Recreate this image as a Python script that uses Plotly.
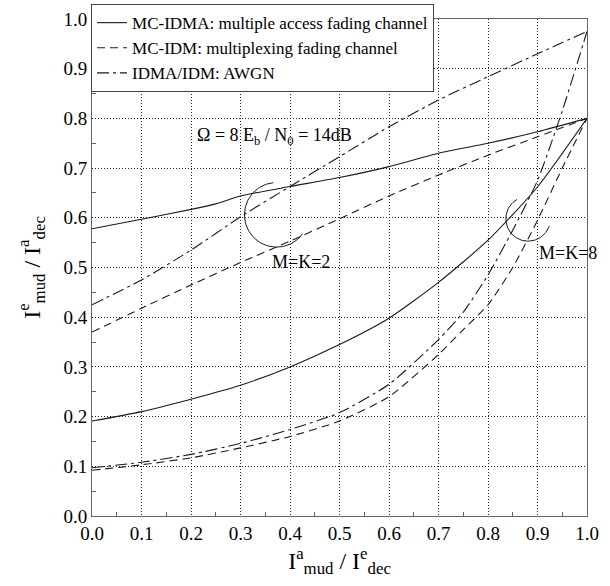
import numpy as np
import plotly.graph_objects as go

# ---------------- data ----------------
x_k2 = [0.0, 0.1, 0.2, 0.25, 0.3, 0.4, 0.5, 0.6, 0.7, 0.8, 0.9, 1.0]
mcidma_k2 = [0.578, 0.597, 0.617, 0.628, 0.644, 0.663, 0.681, 0.703, 0.730, 0.750, 0.773, 0.800]

x_std = [0.0, 0.1, 0.2, 0.3, 0.4, 0.5, 0.6, 0.7, 0.8, 0.9, 1.0]
mcidm_k2 = [0.370, 0.418, 0.465, 0.510, 0.553, 0.598, 0.644, 0.686, 0.726, 0.763, 0.800]
awgn_k2 = [0.425, 0.475, 0.535, 0.602, 0.663, 0.723, 0.783, 0.837, 0.884, 0.930, 0.975]
mcidma_k8 = [0.191, 0.210, 0.235, 0.263, 0.300, 0.345, 0.398, 0.470, 0.555, 0.662, 0.800]

x_k8 = [0.0, 0.1, 0.2, 0.3, 0.4, 0.5, 0.6, 0.7, 0.75, 0.8, 0.85, 0.9, 0.95, 1.0]
mcidm_k8 = [0.092, 0.103, 0.117, 0.137, 0.160, 0.191, 0.240, 0.325, 0.375, 0.425, 0.500, 0.595, 0.700, 0.800]
awgn_k8 = [0.097, 0.108, 0.124, 0.146, 0.174, 0.208, 0.265, 0.355, 0.410, 0.485, 0.575, 0.675, 0.815, 0.975]

legend_names = ["MC-IDMA: multiple access fading channel",
                "MC-IDM: multiplexing fading channel",
                "IDMA/IDM: AWGN"]
tick_vals = [round(0.1 * i, 1) for i in range(11)]
tick_text = ["%.1f" % v for v in tick_vals]

# annotation arcs: (center x, center y, radius, start deg, end deg)
arc_k2 = (0.373, 0.606, 0.065, 96, 324)
arc_k8 = (0.881, 0.598, 0.045, 120, 342)

# ---------------- figure ----------------
FONT = "Liberation Serif"
LC = "#1a1a1a"
DASH = "8px,5px"
DASHDOT = "12px,4px,3px,4px"

fig = go.Figure()

def add(x, y, dash, name, show):
    fig.add_trace(go.Scatter(
        x=x, y=y, mode="lines", name=name, showlegend=show,
        line=dict(color=LC, width=1.1, dash=dash, shape="spline", smoothing=0.6),
        hoverinfo="skip"))

add(x_k2, mcidma_k2, "solid", legend_names[0], True)
add(x_std, mcidm_k2, DASH, legend_names[1], True)
add(x_std, awgn_k2, DASHDOT, legend_names[2], True)
add(x_std, mcidma_k8, "solid", legend_names[0], False)
add(x_k8, mcidm_k8, DASH, legend_names[1], False)
add(x_k8, awgn_k8, DASHDOT, legend_names[2], False)

for cx, cy, r, a0, a1 in (arc_k2, arc_k8):
    t = np.radians(np.linspace(a0, a1, 80))
    fig.add_trace(go.Scatter(x=cx + r * np.cos(t), y=cy + r * np.sin(t), mode="lines",
                             line=dict(color=LC, width=1), showlegend=False, hoverinfo="skip"))

fig.add_annotation(x=0.208, y=0.763, xref="x", yref="y", xanchor="left", yanchor="middle",
                   text="Ω = 8 E<sub>b</sub> / N<sub>0</sub> = 14dB", showarrow=False,
                   font=dict(family=FONT, size=18, color="black"))
fig.add_annotation(x=0.423, y=0.512, xref="x", yref="y", text="M=K=2", showarrow=False,
                   font=dict(family=FONT, size=18, color="black"))
fig.add_annotation(x=0.962, y=0.529, xref="x", yref="y", text="M=K=8", showarrow=False,
                   font=dict(family=FONT, size=18, color="black"))

axis_common = dict(
    range=[0, 1], tickvals=tick_vals, ticktext=tick_text, ticks="",
    showline=True, linecolor="#666", linewidth=1, mirror=True,
    showgrid=True, gridcolor="#222", griddash="1px,2px", gridwidth=1,
    zeroline=False,
    minor=dict(tickvals=[round(0.05 + 0.1 * i, 2) for i in range(10)],
               ticks="inside", ticklen=4, tickcolor="#666", showgrid=False),
    tickfont=dict(family=FONT, size=19, color="black"),
)

fig.update_layout(
    width=610, height=586,
    margin=dict(l=92, r=23, t=19, b=70, autoexpand=False),
    paper_bgcolor="white", plot_bgcolor="white",
    font=dict(family=FONT, color="black"),
    xaxis=dict(axis_common,
               title=dict(text="I<sup>a</sup><sub>mud</sub> / I<sup>e</sup><sub>dec</sub>",
                          font=dict(family=FONT, size=24, color="black"), standoff=8)),
    yaxis=dict(axis_common,
               title=dict(text="I<sup>e</sup><sub>mud</sub> / I<sup>a</sup><sub>dec</sub>",
                          font=dict(family=FONT, size=24, color="black"), standoff=16)),
    legend=dict(x=-0.002, y=1.03, xanchor="left", yanchor="top",
                bgcolor="white", bordercolor="#444", borderwidth=1,
                font=dict(family=FONT, size=17, color="black"),
                itemwidth=30, tracegroupgap=0),
    showlegend=True,
)

fig.write_html("out.html")
